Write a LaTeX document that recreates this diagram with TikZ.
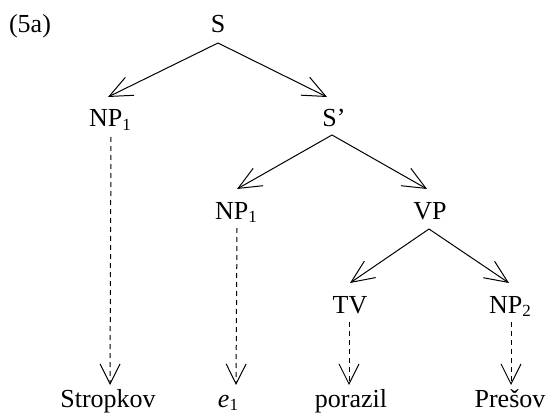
\documentclass[tikz,border=0pt]{standalone}
\usepackage{fontspec}
\setmainfont{Liberation Serif}
\usetikzlibrary{arrows.meta}
% lowered index digit after a category label
\newcommand\subidx[1]{\raisebox{-3.5pt}{\fontsize{17}{17}\selectfont #1}}
\begin{document}
\begin{tikzpicture}[x=1pt,y=-1pt,
  lbl/.style={anchor=base,inner sep=0pt,font=\fontsize{26}{30}\selectfont},
  branch/.style={line width=1pt,-{Straight Barb[length=23pt,width=20pt,line width=1pt]}},
  link/.style={line width=1pt,dash pattern=on 5pt off 4pt,
    -{Straight Barb[length=20pt,width=20pt,line width=1pt]}}]
\useasboundingbox (0,0) rectangle (546,417);

% labels
\node[lbl] (ex)   at (30,33)   {(5a)};
\node[lbl] (s)    at (218,33)  {S};
\node[lbl] (np1)  at (110,127) {NP\subidx{1}};
\node[lbl] (sp)   at (334,127) {S’};
\node[lbl] (np1b) at (236,219) {NP\subidx{1}};
\node[lbl] (vp)   at (430,219) {VP};
\node[lbl] (tv)   at (350,313) {TV};
\node[lbl] (np2)  at (510,313) {NP\subidx{2}};
\node[lbl] (w1)   at (108,407) {Stropkov};
\node[lbl] (w2)   at (228,407) {\textit{e}\subidx{1}};
\node[lbl] (w3)   at (351,407) {porazil};
\node[lbl] (w4)   at (510,407) {Prešov};

% tree branches
\draw[branch] ([shift={(0,10)}]s.base) -- ([shift={(-2,-30)}]np1.base);
\draw[branch] ([shift={(0,10)}]s.base) -- ([shift={(-7,-30)}]sp.base);
\draw[branch] ([shift={(-2,8)}]sp.base) -- ([shift={(1,-30)}]np1b.base);
\draw[branch] ([shift={(-2,8)}]sp.base) -- ([shift={(-3,-30)}]vp.base);
\draw[branch] ([shift={(-1,10)}]vp.base) -- ([shift={(0,-30)}]tv.base);
\draw[branch] ([shift={(-1,10)}]vp.base) -- ([shift={(-1,-30)}]np2.base);

% lexical links
\draw[link] ([shift={(1,10)}]np1.base)  -- ([shift={(2,-22)}]w1.base);
\draw[link] ([shift={(1,9)}]np1b.base)  -- ([shift={(8,-22)}]w2.base);
\draw[link] ([shift={(-1,9)}]tv.base)   -- ([shift={(-2,-22)}]w3.base);
\draw[link] ([shift={(1,9)}]np2.base)   -- ([shift={(1,-22)}]w4.base);
\end{tikzpicture}
\end{document}
